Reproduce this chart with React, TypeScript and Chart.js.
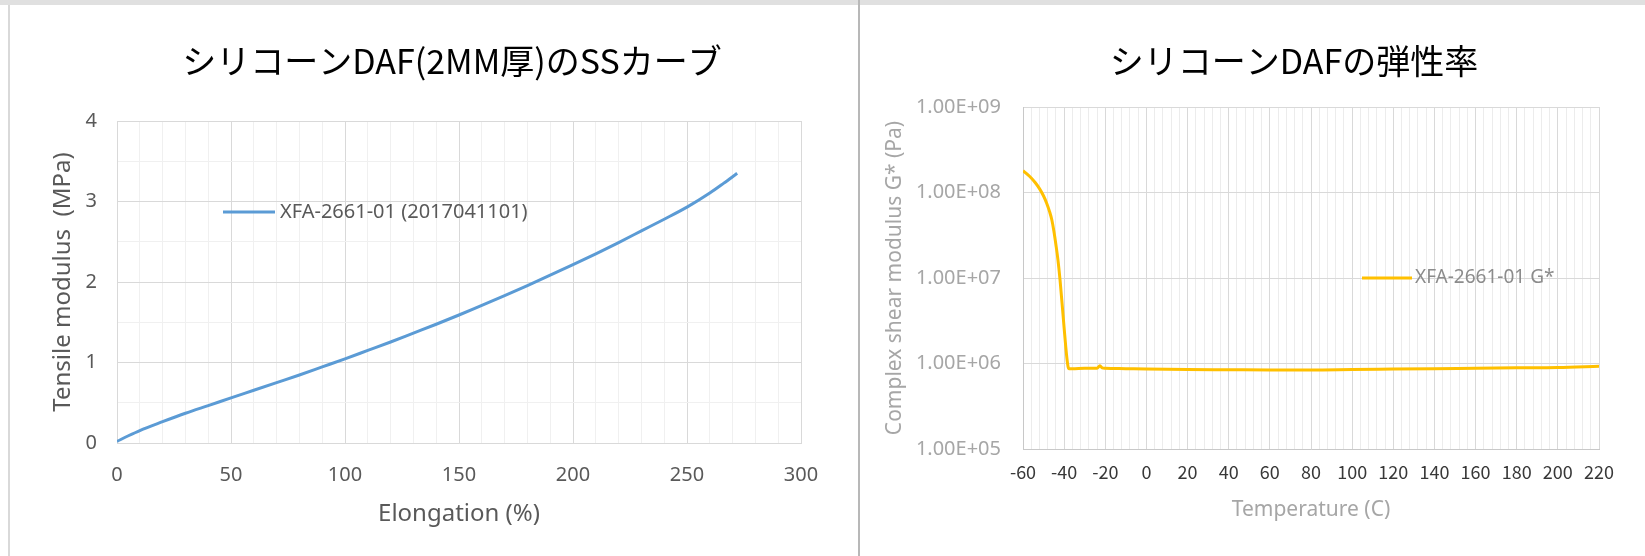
import React, { useEffect, useRef } from 'react';
import { Chart, registerables } from 'chart.js';

Chart.register(...registerables);

// ---------- Data ----------
const leftTitle = 'シリコーンDAF(2MM厚)のSSカーブ';
const rightTitle = 'シリコーンDAFの弾性率';
const leftSeriesName = 'XFA-2661-01 (2017041101)';
const rightSeriesName = 'XFA-2661-01 G*';

const elongation = [0, 5, 10, 20, 30, 40, 50, 60, 70, 80, 90, 100, 110, 120, 130, 140, 150, 160, 170, 180, 190, 200, 210, 220, 230, 240, 250, 260, 266, 272];
const tensileModulus = [0.02, 0.09, 0.155, 0.265, 0.37, 0.465, 0.56, 0.655, 0.75, 0.845, 0.945, 1.045, 1.15, 1.255, 1.365, 1.475, 1.59, 1.71, 1.83, 1.955, 2.085, 2.215, 2.35, 2.49, 2.635, 2.78, 2.93, 3.105, 3.225, 3.35];

const temperature = [-60, -58, -56, -54, -52, -50, -48.5, -47, -46, -45, -44, -43, -42, -41, -40, -39.2, -38.6, -38.1, -37.6, -36, -30, -24, -22.6, -21.5, -20, -10, 0, 20, 40, 60, 80, 100, 120, 140, 160, 180, 200, 220];
const shearModulus = [1.8e8, 1.64e8, 1.48e8, 1.3e8, 1.11e8, 9.1e7, 7.5e7, 5.9e7, 4.8e7, 3.55e7, 2.45e7, 1.62e7, 9.5e6, 5.0e6, 2.6e6, 1.55e6, 1.12e6, 9.2e5, 8.7e5, 8.7e5, 8.8e5, 8.8e5, 9.4e5, 8.9e5, 8.8e5, 8.7e5, 8.6e5, 8.5e5, 8.45e5, 8.4e5, 8.4e5, 8.5e5, 8.6e5, 8.7e5, 8.8e5, 8.9e5, 9.0e5, 9.3e5];

const leftXTicks = [0, 50, 100, 150, 200, 250, 300];
const leftYTicks = [0, 1, 2, 3, 4];
const rightXTicks = [-60, -40, -20, 0, 20, 40, 60, 80, 100, 120, 140, 160, 180, 200, 220];
const rightYTicks = [1e5, 1e6, 1e7, 1e8, 1e9];
const rightYTickLabels = ['1.00E+05', '1.00E+06', '1.00E+07', '1.00E+08', '1.00E+09'];

// ---------- Styles ----------
const MAJOR = '#d9d9d9';
const MINOR = '#f0f0f0';
const LEFT_TEXT = '#595959';
const RIGHT_TEXT = '#a6a6a6';

function insideLegend(id: string, o: { x1: number; x2: number; tx: number; dy: number; font: string; color: string }) {
  return {
    id,
    afterDatasetsDraw(chart: any) {
      const { ctx, chartArea } = chart;
      const ds = chart.data.datasets[0];
      const y = chartArea.top + o.dy;
      ctx.save();
      ctx.strokeStyle = ds.borderColor;
      ctx.lineWidth = ds.borderWidth;
      ctx.lineCap = 'butt';
      ctx.beginPath();
      ctx.moveTo(chartArea.left + o.x1, y);
      ctx.lineTo(chartArea.left + o.x2, y);
      ctx.stroke();
      ctx.font = o.font;
      ctx.fillStyle = o.color;
      ctx.textAlign = 'left';
      ctx.textBaseline = 'middle';
      ctx.fillText(ds.label, chartArea.left + o.tx, y);
      ctx.restore();
    },
  };
}

const hiddenAxis = (w: number) => ({
  position: 'right',
  display: true,
  afterFit: (s: any) => { s.width = w; },
  grid: { display: false, drawTicks: false },
  border: { display: false },
  ticks: { display: false },
});

function leftConfig(): any {
  return {
    type: 'scatter',
    data: {
      datasets: [{
        label: leftSeriesName,
        data: elongation.map((x, i) => ({ x, y: tensileModulus[i] })),
        showLine: true,
        borderColor: '#5B9BD5',
        backgroundColor: '#5B9BD5',
        borderWidth: 3,
        pointRadius: 0,
        cubicInterpolationMode: 'monotone',
      }],
    },
    options: {
      responsive: false,
      animation: false,
      devicePixelRatio: 1,
      layout: { padding: { left: 46, right: 0, top: 0, bottom: 0 } },
      plugins: {
        legend: { display: false },
        tooltip: { enabled: false },
        title: {
          display: true,
          text: leftTitle,
          color: '#000',
          font: { family: '"Noto Sans CJK JP"', size: 34, weight: 'normal', lineHeight: 1 },
          padding: { top: 44, bottom: 43 },
        },
      },
      scales: {
        x: {
          type: 'linear',
          position: 'bottom',
          min: 0,
          max: 300,
          afterFit: (s: any) => { s.height = 113; },
          grid: {
            drawTicks: false,
            color: (c: any) => (c.tick && leftXTicks.includes(c.tick.value) ? MAJOR : MINOR),
          },
          border: { color: MAJOR },
          ticks: {
            stepSize: 10,
            autoSkip: false,
            maxRotation: 0,
            padding: 20,
            color: LEFT_TEXT,
            font: { family: '"Noto Sans"', size: 20 },
            callback: (v: number) => (leftXTicks.includes(v) ? String(v) : ''),
          },
          title: {
            display: true,
            text: 'Elongation (%)',
            color: LEFT_TEXT,
            font: { family: '"Noto Sans"', size: 24, lineHeight: 1 },
            padding: { top: 0, bottom: 30 },
          },
        },
        y: {
          type: 'linear',
          position: 'left',
          min: 0,
          max: 4,
          afterFit: (s: any) => { s.width = 71; },
          grid: {
            drawTicks: false,
            color: (c: any) => (c.tick && leftYTicks.includes(c.tick.value) ? MAJOR : MINOR),
          },
          border: { color: MAJOR },
          ticks: {
            stepSize: 0.5,
            autoSkip: false,
            padding: 20,
            color: LEFT_TEXT,
            font: { family: '"Noto Sans"', size: 20 },
            callback: (v: number) => (leftYTicks.includes(v) ? String(v) : ''),
          },
          title: {
            display: true,
            text: 'Tensile modulus  (MPa)',
            color: LEFT_TEXT,
            font: { family: '"Noto Sans"', size: 24, lineHeight: 1 },
            padding: { top: 5, bottom: 0 },
          },
        },
        pad: hiddenAxis(57),
      },
    },
    plugins: [insideLegend('leftLegend', { x1: 106, x2: 158, tx: 163, dy: 91, font: '20px "Noto Sans"', color: LEFT_TEXT })],
  };
}

function rightConfig(): any {
  return {
    type: 'scatter',
    data: {
      datasets: [{
        label: rightSeriesName,
        data: temperature.map((x, i) => ({ x, y: shearModulus[i] })),
        showLine: true,
        borderColor: '#FFC000',
        backgroundColor: '#FFC000',
        borderWidth: 3,
        pointRadius: 0,
        cubicInterpolationMode: 'monotone',
      }],
    },
    options: {
      responsive: false,
      animation: false,
      devicePixelRatio: 1,
      layout: { padding: { left: 24, right: -59, top: 0, bottom: 0 } },
      plugins: {
        legend: { display: false },
        tooltip: { enabled: false },
        title: {
          display: true,
          text: rightTitle,
          color: '#000',
          font: { family: '"Noto Sans CJK JP"', size: 34, weight: 'normal', lineHeight: 1 },
          padding: { top: 44, bottom: 29 },
        },
      },
      scales: {
        x: {
          type: 'linear',
          position: 'bottom',
          min: -60,
          max: 220,
          afterFit: (s: any) => { s.height = 107; },
          grid: {
            drawTicks: false,
            color: (c: any) => (c.tick && rightXTicks.includes(c.tick.value) ? MAJOR : '#ececec'),
          },
          border: { color: '#c8c8c8' },
          ticks: {
            stepSize: 4,
            autoSkip: false,
            maxRotation: 0,
            padding: 12,
            color: '#383838',
            font: { family: '"Noto Sans CJK JP"', size: 18 },
            callback: (v: number) => (rightXTicks.includes(v) ? String(v) : ''),
          },
          title: {
            display: true,
            text: 'Temperature (C)',
            color: RIGHT_TEXT,
            font: { family: '"Noto Sans"', size: 21, lineHeight: 1 },
            padding: { top: 0, bottom: 35.5 },
          },
        },
        y: {
          type: 'logarithmic',
          position: 'left',
          min: 1e5,
          max: 1e9,
          afterFit: (s: any) => { s.width = 139; },
          afterBuildTicks: (s: any) => { s.ticks = rightYTicks.map((v) => ({ value: v, major: true })); },
          grid: { drawTicks: false, color: MAJOR },
          border: { color: '#c8c8c8' },
          ticks: {
            autoSkip: false,
            padding: 22,
            color: RIGHT_TEXT,
            font: { family: '"Noto Sans"', size: 20 },
            callback: (v: number) => rightYTickLabels[rightYTicks.indexOf(v)] ?? '',
          },
          title: {
            display: true,
            text: 'Complex shear modulus G* (Pa)',
            color: RIGHT_TEXT,
            font: { family: '"Noto Sans"', size: 21, lineHeight: 1 },
            padding: { top: 0.5, bottom: 0 },
          },
        },
        pad: hiddenAxis(105),
      },
    },
    plugins: [insideLegend('rightLegend', { x1: 339, x2: 389, tx: 392, dy: 171, font: '19px "Noto Sans"', color: '#8c8c8c' })],
  };
}

function ChartCanvas({ left, width, makeConfig }: { left: number; width: number; makeConfig: () => any }) {
  const ref = useRef<HTMLCanvasElement | null>(null);
  useEffect(() => {
    if (!ref.current) return;
    const chart = new Chart(ref.current, makeConfig());
    return () => chart.destroy();
  }, []);
  return (
    <canvas
      ref={ref}
      width={width}
      height={556}
      style={{ position: 'absolute', left, top: 0, width, height: 556 }}
    />
  );
}

export default function App() {
  return (
    <div style={{ position: 'absolute', left: 0, top: 0, width: 1645, height: 556, background: '#fff', overflow: 'hidden' }}>
      <ChartCanvas left={0} width={858} makeConfig={leftConfig} />
      <ChartCanvas left={860} width={785} makeConfig={rightConfig} />
      <div style={{ position: 'absolute', left: 0, top: 0, width: 1645, height: 5, background: '#e0e0e0' }} />
      <div style={{ position: 'absolute', left: 8, top: 5, width: 2, height: 551, background: '#d9d9d9' }} />
      <div style={{ position: 'absolute', left: 858, top: 0, width: 2, height: 556, background: '#b8b8b8' }} />
    </div>
  );
}
